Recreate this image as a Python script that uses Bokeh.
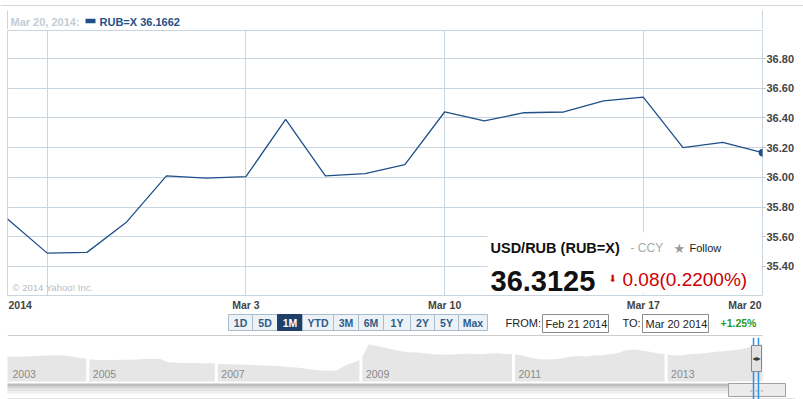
from bokeh.plotting import figure
from bokeh.layouts import column
from bokeh.models import (FixedTicker, NumeralTickFormatter, Label, BoxAnnotation,
                          Span, ColumnDataSource)
from bokeh.embed import file_html
from bokeh.resources import INLINE

# ---------------- data ----------------
trade_dates = ["2014-02-21", "2014-02-24", "2014-02-25", "2014-02-26", "2014-02-27",
               "2014-02-28", "2014-03-03", "2014-03-04", "2014-03-05", "2014-03-06",
               "2014-03-07", "2014-03-10", "2014-03-11", "2014-03-12", "2014-03-13",
               "2014-03-14", "2014-03-17", "2014-03-18", "2014-03-19", "2014-03-20"]
rub_close = [35.72, 35.49, 35.495, 35.70, 36.01, 35.995, 36.005, 36.39, 36.01, 36.025,
             36.085, 36.44, 36.38, 36.435, 36.44, 36.515, 36.54, 36.20, 36.235, 36.1662]
x_tick_idx = [0, 6, 11, 16, 19]
x_tick_labels = ["2014", "Mar 3", "Mar 10", "Mar 17", "Mar 20"]
week_starts = [1, 6, 11, 16]
y_ticks = [35.4, 35.6, 35.8, 36.0, 36.2, 36.4, 36.6, 36.8]

legend_date = "Mar 20, 2014:"
legend_text = "RUB=X 36.1662"
quote_name = "USD/RUB (RUB=X)"
quote_type = "- CCY"
quote_last = "36.3125"
quote_change = "0.08(0.2200%)"
range_buttons = ["1D", "5D", "1M", "YTD", "3M", "6M", "1Y", "2Y", "5Y", "Max"]
active_button = "1M"
from_date = "Feb 21 2014"
to_date = "Mar 20 2014"
period_change = "+1.25%"

nav_values = [30.0, 29.9, 30.0, 30.1, 30.3, 30.4, 30.5, 30.4, 30.0, 29.4, 28.8,
              28.3, 28.2, 28.3, 28.4, 28.4, 28.6, 28.8, 28.9, 28.8, 27.2, 27.0, 26.9, 26.9, 26.8, 26.7, 26.6,
              26.4, 26.2, 26.1, 26.0, 25.9, 25.7, 25.6, 25.3, 25.0, 24.7, 24.2, 23.6, 23.3, 23.2, 23.3, 25.5, 27.0, 28.5,
              35.8, 35.0, 34.2, 33.3, 32.5, 32.0, 31.9, 31.5, 31.0, 30.9, 30.8, 31.0, 31.3, 31.3, 31.1, 31.4, 31.5, 31.2, 31.0,
              30.6, 29.5, 28.8, 28.6, 28.7, 29.0, 29.8, 30.2, 30.0, 30.4, 30.6, 31.0, 31.6, 33.0, 33.3, 32.8, 32.2, 31.4, 31.0,
              30.5, 30.6, 31.0, 31.3, 31.6, 32.1, 32.5, 32.8, 33.2, 34.0, 35.2, 36.2]
nav_base = 18.0
nav_year_labels = ["2003", "2005", "2007", "2009", "2011", "2013"]
nav_year_start = [0, 10, 26, 44, 63, 82]
nav_selection = [92.88, 93.5]

FONT = "Liberation Sans"
LINE = "#1f5089"
GRID = "#c9d6df"
W = 803


def lab(fig, text, x, y, size, color, bold=False, align="left", baseline="middle",
        font=FONT, x_units="screen", x_offset=0):
    fig.add_layout(Label(x=x, y=y, x_units=x_units, y_units="screen", x_offset=x_offset,
                         text=text, text_font=font, text_font_size=f"{size}px",
                         text_color=color, text_font_style="bold" if bold else "normal",
                         text_align=align, text_baseline=baseline))


def box(fig, l, r, b, t, fill=None, line=None):
    fig.add_layout(BoxAnnotation(left=l, right=r, bottom=b, top=t,
                                 left_units="screen", right_units="screen",
                                 top_units="screen", bottom_units="screen",
                                 fill_color=fill, fill_alpha=1.0,
                                 line_color=line, line_alpha=1.0, line_width=1))


def blank(height, **kw):
    f = figure(width=W, height=height, output_backend="svg", toolbar_location=None,
               x_axis_location=None, y_axis_location=None, **kw)
    f.grid.visible = False
    f.outline_line_color = None
    return f


# ---------------- legend strip (page y 0-29) ----------------
s = blank(29, x_range=(0, 1), y_range=(0, 1), min_border=0, frame_align=False)
box(s, 0, W, 23.5, 24.5, fill="#d6d6d6")           # top rule
box(s, 6.5, 7.5, 0, 19, fill=GRID)
box(s, 761.5, 762.5, 0, 19, fill=GRID)
lab(s, legend_date, 10, 8, 11, "#c5ccd4", bold=True)
box(s, 85, 95, 6.3, 10.7, fill=LINE)
lab(s, legend_text, 99, 8, 11, LINE, bold=True)

# ---------------- main chart (page y 29-297) ----------------
src = ColumnDataSource(dict(i=list(range(len(rub_close))), close=rub_close, date=trade_dates))
p = figure(width=W, height=268, x_range=(0, len(rub_close) - 1), y_range=(35.2048, 36.9885),
           y_axis_location="right", x_axis_location=None, output_backend="svg",
           toolbar_location=None, min_border_left=7, min_border_right=41,
           min_border_top=1, min_border_bottom=2)
p.outline_line_color = GRID

p.yaxis.ticker = FixedTicker(ticks=y_ticks)
p.yaxis.formatter = NumeralTickFormatter(format="0.00")
p.yaxis.axis_line_color = None
p.yaxis.major_tick_out = 3
p.yaxis.major_tick_in = 0
p.yaxis.major_tick_line_color = "#b4c4d0"
p.yaxis.minor_tick_line_color = None
p.yaxis.major_label_standoff = 1
p.yaxis.major_label_text_font = FONT
p.yaxis.major_label_text_font_style = "bold"
p.yaxis.major_label_text_font_size = "11px"
p.yaxis.major_label_text_color = "#444444"

p.xgrid.ticker = FixedTicker(ticks=week_starts)
p.ygrid.ticker = FixedTicker(ticks=y_ticks)
p.grid.grid_line_color = GRID

p.line("i", "close", source=src, line_color=LINE, line_width=1.3)
p.scatter([len(rub_close) - 1], [rub_close[-1]], size=7, color=LINE)

lab(p, "\u00a9 2014 Yahoo! Inc.", 5, 8, 9.5, "#b5bcc4")

# quote overlay
box(p, 480, 754, 2, 63, fill="white")
lab(p, quote_name, 483, 47.3, 14.5, "#111111", bold=True, baseline="alphabetic")
lab(p, quote_type, 623, 47.3, 12, "#aaaaaa", baseline="alphabetic")
lab(p, "\u2605", 666, 47.3, 13, "#999999", baseline="alphabetic", font="DejaVu Sans")
lab(p, "Follow", 682, 47.3, 11, "#222222", baseline="alphabetic")
lab(p, quote_last, 483, 15, 29, "#111111", bold=True, baseline="alphabetic")
lab(p, "\u2b07", 601, 17, 10, "#cc1100", baseline="alphabetic", font="DejaVu Sans")
lab(p, quote_change, 615, 16.5, 19, "#cc0000", baseline="alphabetic")

# ---------------- x labels + controls (page y 297-337) ----------------
c = blank(40, x_range=p.x_range, y_range=(0, 1), min_border_left=7, min_border_right=41,
          min_border_top=0, min_border_bottom=0)
for t, xi in zip(x_tick_labels, x_tick_idx):
    if xi == 0:
        al, off = "left", 1
    elif xi == len(rub_close) - 1:
        al, off = "right", -1
    else:
        al, off = "center", 0
    lab(c, t, xi, 33, 10.5, "#444444", bold=True, align=al, x_units="data", x_offset=off)

widths = [24, 25, 25, 31, 25, 25, 27, 24, 24, 29]
bx = 221
for name, w in zip(range_buttons, widths):
    act = name == active_button
    box(c, bx, bx + w, 7, 23, fill="#1d3f68" if act else "#edf2f7",
        line="#1d3f68" if act else "#a9bccd")
    lab(c, name, bx + w / 2, 15, 10.5, "white" if act else "#2d5c8a", bold=True, align="center")
    bx += w

lab(c, "FROM:", 498, 14.5, 11, "#222222")
box(c, 535, 601, 5, 23, fill="white", line="#8c8c8c")
lab(c, from_date, 538, 14, 11, "#222222")
lab(c, "TO:", 615, 14.5, 11, "#222222")
box(c, 635, 701, 5, 23, fill="white", line="#8c8c8c")
lab(c, to_date, 638, 14, 11, "#222222")
lab(c, period_change, 713, 14.5, 10.5, "#2a9a2a", bold=True)
box(c, 0, 755, 1.5, 2.5, fill="#cccccc")

# ---------------- navigator (page y 337-399) ----------------
step = 755 / (len(nav_values) - 1)
n = blank(62, x_range=(-7 / step, len(nav_values) - 1 + 41 / step),
          y_range=(nav_base - 18 / 2.087, nav_base + 44 / 2.087), min_border=0,
          frame_align=False)
nav_x = list(range(len(nav_values)))
n.varea(x=nav_x, y1=nav_base, y2=nav_values, fill_color="#e6e6e6")
seps = nav_year_start[1:]
n.segment(x0=seps, x1=seps, y0=[nav_base] * len(seps), y1=[38.0] * len(seps),
          line_color="white", line_width=3)
for t, b in zip(nav_year_labels, nav_year_start):
    lab(n, t, b, 25.5, 10.5, "#8a8a8a", x_units="data", x_offset=5)

# scrollbar
box(n, 7, 762, 13.5, 16, fill="#bdbdbd")
box(n, 7, 762, 11, 13.5, fill="#d2d2d2")
box(n, 7, 762, 8.5, 11, fill="#e2e2e2")
box(n, 7, 762, 6, 8.5, fill="#efefef")
box(n, 728, 785, 3, 16, fill="#ebebeb", line="#a0a0a0")
lab(n, "\u2022 \u2022 \u2022", 756, 9.5, 6, "#b0b0b0", align="center", font="DejaVu Sans")
box(n, 7, 795, 0.5, 1.5, fill="#e4e4e4")

# selection handles
for sel in nav_selection:
    n.add_layout(Span(location=sel, dimension="height", line_color="#2f8fe8", line_width=1.5))
box(n, 751, 761, 28, 54, fill="#e2e2e2", line="#888888")
lab(n, "\u25c2\u25b8", 756, 41, 8, "#333333", align="center", font="DejaVu Sans")

layout = column(s, p, c, n, spacing=0)
open("out.html", "w").write(file_html(layout, INLINE))
